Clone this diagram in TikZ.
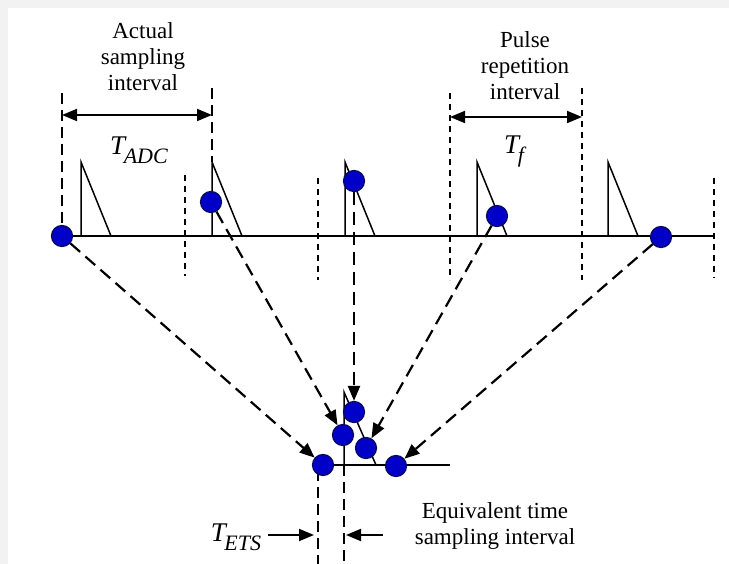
\documentclass[tikz,border=0pt]{standalone}
\usepackage{fontspec}
\setmainfont{Liberation Serif}
\usetikzlibrary{arrows.meta}
\definecolor{dotblue}{RGB}{0,0,200}
\definecolor{dotedge}{RGB}{10,10,90}
\newcommand{\tsub}[1]{\textit{T}\kern-3pt\raisebox{-9pt}{\fontsize{22}{24}\selectfont\itshape #1}}
\begin{document}
\begin{tikzpicture}[x=1pt,y=-1pt,
 dot/.style={circle,fill=dotblue,draw=dotedge,line width=1.2pt,minimum size=21pt,inner sep=0pt},
 pulse/.style={line width=1.5pt},
 longdash/.style={line width=1.6pt,dash pattern=on 11pt off 6pt},
 shortdash/.style={line width=2pt,dash pattern=on 6pt off 5pt},
 sampleflow/.style={line width=2.2pt,dash pattern=on 13pt off 7pt,-{Triangle[length=15pt,width=12pt]}},
 dimarrow/.style={line width=1.8pt,{Triangle[length=15pt,width=12pt]}-{Triangle[length=15pt,width=12pt]}},
 onearrow/.style={line width=1.8pt,-{Triangle[length=15pt,width=12pt]}},
 lbl/.style={font=\fontsize{23}{26}\selectfont,align=center,inner sep=0pt},
 sym/.style={font=\fontsize{27}{30}\selectfont,inner sep=0pt},
]
\useasboundingbox (0,0) rectangle (729,564);
\fill[white] (0,0) rectangle (729,564);
\fill[black!5] (0,0) rectangle (729,8);
\fill[black!5] (0,8) rectangle (8,564);

% --- top time axis and pulses
\draw[pulse] (62,236) -- (714,236);
\foreach \px in {81,212,345,477,608}{
  \draw[pulse] (\px,236) -- (\px,162) -- (\px+30,236);
}
% long-dashed sample markers
\draw[longdash] (62,93) -- (62,236);
\draw[longdash] (212,88) -- (212,162);
% short-dashed pulse period markers
\draw[shortdash] (185,175) -- (185,276);
\draw[shortdash] (318,178) -- (318,280);
\draw[shortdash] (450,93) -- (450,280);
\draw[shortdash] (582,88) -- (582,280);
\draw[shortdash] (714,178) -- (714,278);

% dimension arrows
\coordinate (adcL) at (62,115);
\coordinate (adcR) at (212,115);
\coordinate (tfL) at (450,117);
\coordinate (tfR) at (582,117);
\draw[dimarrow] (adcL) -- (adcR);
\draw[dimarrow] (tfL) -- (tfR);

% --- bottom reconstructed pulse
\draw[pulse] (323,465) -- (450,465);
\draw[pulse] (344,465) -- (344,392) -- (376,465);
\draw[longdash] (318,470) -- (318,564);
\draw[longdash] (344,465) -- (344,564);

% labels
\node[lbl] (actual) at (143,57) {Actual\\sampling\\interval};
\node[lbl] (pulse) at (525,66) {Pulse\\repetition\\interval};
\node[sym] (tadc) at (139,150) {\tsub{ADC}};
\node[sym] (tf) at (514,152) {\tsub{f}};
\node[sym] (tets) at (236,537) {\tsub{ETS}};
\node[lbl] (equiv) at (495,526) {Equivalent time\\sampling interval};

\coordinate (etsA) at (268,535);
\coordinate (etsB) at (314,535);
\coordinate (etsC) at (383,535);
\coordinate (etsD) at (346,535);
\draw[onearrow] (etsA) -- (etsB);
\draw[onearrow] (etsC) -- (etsD);

% samples
\node[dot] (a1) at (62,236) {};
\node[dot] (a2) at (211,202) {};
\node[dot] (a3) at (354,181) {};
\node[dot] (a4) at (497,216) {};
\node[dot] (a5) at (661,237) {};
\node[dot] (b1) at (323,465) {};
\node[dot] (b2) at (343,435) {};
\node[dot] (b3) at (354,412) {};
\node[dot] (b4) at (366,448) {};
\node[dot] (b5) at (396,466) {};

\draw[sampleflow] (a1) -- (b1);
\draw[sampleflow] (a2) -- (b2);
\draw[sampleflow] (a3) -- (b3);
\draw[sampleflow] (a4) -- (b4);
\draw[sampleflow] (a5) -- (b5);
\end{tikzpicture}
\end{document}
